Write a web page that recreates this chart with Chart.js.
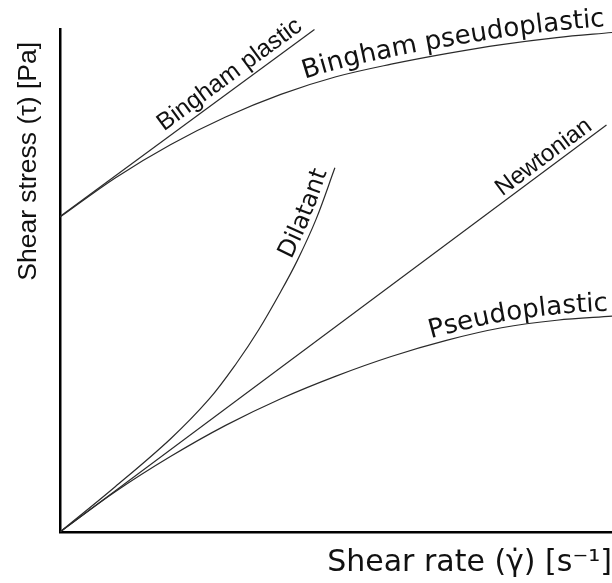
<!DOCTYPE html>
<html>
<head>
<meta charset="utf-8">
<script src="https://cdn.jsdelivr.net/npm/chart.js@4/dist/chart.umd.min.js"></script>
<style>
  html, body { margin: 0; padding: 0; background: #fff; }
  canvas { display: block; }
</style>
</head>
<body>
<canvas id="chart" width="612" height="583"></canvas>
<script>
// values, axes run 0..100 in both directions
const binghamX = [0, 46.1];
const binghamY = [62.7, 99.9];

const binghamPseudoX = [0, 10, 20, 30, 40, 50, 60, 70, 80, 90, 100];
const binghamPseudoY = [62.6, 70.4, 77.0, 82.5, 87.0, 90.5, 93.0, 95.1, 96.9, 98.3, 99.3];

const dilatantX = [0, 10, 20, 27, 32, 36, 40, 43, 46.4, 49.8];
const dilatantY = [0, 9.0, 18.5, 26.4, 33.6, 40.2, 47.8, 54.0, 62.2, 72.4];

const newtonianX = [0, 99];
const newtonianY = [0, 80.9];

const pseudoX = [0, 10, 20, 30, 40, 50, 60, 70, 80, 90, 100];
const pseudoY = [0, 8.0, 15.0, 21.2, 26.5, 31.0, 34.9, 38.1, 40.6, 42.1, 42.9];

const names = ['Bingham plastic', 'Bingham pseudoplastic', 'Dilatant', 'Newtonian', 'Pseudoplastic'];
const xTitle = 'Shear rate (\u03b3\u0307) [s\u207b\u00b9]';
const yTitle = 'Shear stress (\u03c4) [Pa]';

const toPoints = (xs, ys) => xs.map((x, i) => ({ x, y: ys[i] }));

const lineColor = '#2a2a2a';

const series = [
    { xs: binghamX, ys: binghamY, curved: false },
    { xs: binghamPseudoX, ys: binghamPseudoY, curved: true },
    { xs: dilatantX, ys: dilatantY, curved: true },
    { xs: newtonianX, ys: newtonianY, curved: false },
    { xs: pseudoX, ys: pseudoY, curved: true },
];

const datasets = series.map((s, i) => ({
    label: names[i],
    data: toPoints(s.xs, s.ys),
    borderColor: lineColor,
    borderWidth: 1.2,
    pointRadius: 0,
    fill: false,
    tension: s.curved ? 0.35 : 0,
}));

// where each name sits: start on the curve (x value), gap above it, font
const curveLabels = [
    { dataset: 0, from: 19.0, offset: 7, font: '24.5px "Liberation Sans"' },
    { dataset: 1, from: 44.6, offset: 7, font: '26px "DejaVu Sans"' },
    { dataset: 2, from: 42.8, offset: 6, font: '24px "DejaVu Sans"' },
    { dataset: 3, from: 80.0, offset: 5, font: '24px "Liberation Sans"' },
    { dataset: 4, from: 67.4, offset: 6, font: '26px "DejaVu Sans"' },
];

// sample the drawn bezier of a dataset into a polyline
const curvePath = (chart, index) => {
    const pts = chart.getDatasetMeta(index).data;
    const out = [];
    for (let i = 0; i < pts.length - 1; i++) {
        const a = pts[i], b = pts[i + 1];
        const c1x = a.cp2x ?? a.x, c1y = a.cp2y ?? a.y;
        const c2x = b.cp1x ?? b.x, c2y = b.cp1y ?? b.y;
        for (let k = 0; k < 40; k++) {
            const t = k / 40, u = 1 - t;
            out.push({
                x: u*u*u*a.x + 3*u*u*t*c1x + 3*u*t*t*c2x + t*t*t*b.x,
                y: u*u*u*a.y + 3*u*u*t*c1y + 3*u*t*t*c2y + t*t*t*b.y,
            });
        }
    }
    const last = pts[pts.length - 1];
    out.push({ x: last.x, y: last.y });
    return out;
};

const textAlong = (ctx, path, text, startX, offset) => {
    const cum = [0];
    for (let i = 1; i < path.length; i++) {
        cum.push(cum[i - 1] + Math.hypot(path[i].x - path[i - 1].x, path[i].y - path[i - 1].y));
    }
    const total = cum[cum.length - 1];
    const pointAt = s => {
        if (s >= total) {
            const a = path[path.length - 2], b = path[path.length - 1];
            const d = Math.hypot(b.x - a.x, b.y - a.y);
            return { x: b.x + (b.x - a.x) / d * (s - total), y: b.y + (b.y - a.y) / d * (s - total) };
        }
        if (s <= 0) return { x: path[0].x, y: path[0].y };
        let i = 1;
        while (cum[i] < s) i++;
        const f = (s - cum[i - 1]) / (cum[i] - cum[i - 1]);
        return {
            x: path[i - 1].x + (path[i].x - path[i - 1].x) * f,
            y: path[i - 1].y + (path[i].y - path[i - 1].y) * f,
        };
    };
    let j = 0;
    while (j < path.length - 1 && path[j].x < startX) j++;
    let s = cum[j];
    for (const ch of text) {
        const w = ctx.measureText(ch).width;
        const mid = s + w / 2;
        const p = pointAt(mid);
        const p1 = pointAt(mid - 4), p2 = pointAt(mid + 4);
        const ang = Math.atan2(p2.y - p1.y, p2.x - p1.x);
        ctx.save();
        ctx.translate(p.x, p.y);
        ctx.rotate(ang);
        ctx.fillText(ch, 0, -offset);
        ctx.restore();
        s += w;
    }
};

const curveNames = {
    id: 'curveNames',
    afterDatasetsDraw(chart) {
        const ctx = chart.ctx;
        ctx.save();
        ctx.fillStyle = '#111';
        ctx.textAlign = 'center';
        ctx.textBaseline = 'alphabetic';
        for (const lab of curveLabels) {
            ctx.font = lab.font;
            const path = curvePath(chart, lab.dataset);
            textAlong(ctx, path, names[lab.dataset], chart.scales.x.getPixelForValue(lab.from), lab.offset);
        }

        // y axis title, sits a little below the top of the axis
        const area = chart.chartArea;
        ctx.font = '26.5px "Liberation Sans"';
        ctx.textAlign = 'right';
        ctx.textBaseline = 'middle';
        ctx.translate(area.left - 31, area.top + 13);
        ctx.rotate(-Math.PI / 2);
        ctx.fillText(yTitle, 0, 0);
        ctx.restore();
    }
};

new Chart(document.getElementById('chart'), {
    type: 'line',
    data: { datasets },
    plugins: [curveNames],
    options: {
        responsive: false,
        animation: false,
        layout: { padding: { top: 29, right: 0, bottom: 0, left: 60 } },
        plugins: {
            legend: { display: false },
            tooltip: { enabled: false },
        },
        scales: {
            x: {
                type: 'linear',
                min: 0,
                max: 100,
                grid: { display: false, drawTicks: false },
                border: { display: true, color: '#000', width: 2.5 },
                ticks: { display: false },
                title: {
                    display: true,
                    text: xTitle,
                    align: 'end',
                    color: '#111',
                    font: { family: '"DejaVu Sans"', size: 30 },
                    padding: { top: 13, bottom: 2 },
                },
            },
            y: {
                type: 'linear',
                min: 0,
                max: 100,
                grid: { display: false, drawTicks: false },
                border: { display: true, color: '#000', width: 2.5 },
                ticks: { display: false },
                title: { display: false },
            },
        },
    },
});
</script>
</body>
</html>
